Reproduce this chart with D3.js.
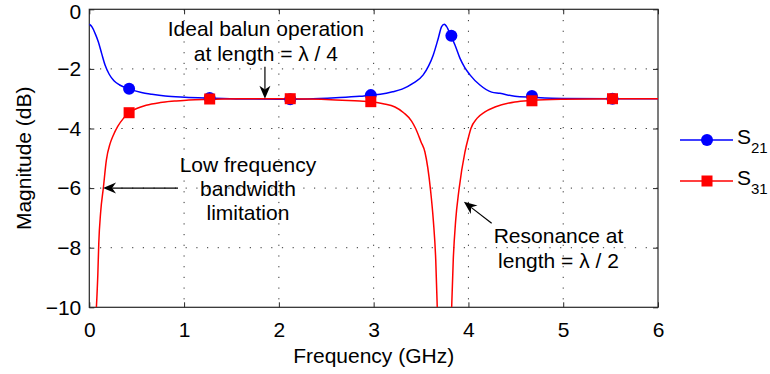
<!DOCTYPE html>
<html>
<head>
<meta charset="utf-8">
<script src="https://cdn.jsdelivr.net/npm/d3@7/dist/d3.min.js"></script>
<style>
  body { margin: 0; background: #fff; }
  text { font-family: "Liberation Sans", Arial, Helvetica, sans-serif; fill: #000; }
</style>
</head>
<body>
<script>
// S21 trace (GHz, dB)
const s21Freq = [0, 0.03, 0.06, 0.095, 0.13, 0.166, 0.21, 0.26, 0.32, 0.42, 0.55, 0.66, 0.8, 1.01, 1.27, 1.6, 2.0, 2.3, 2.6,
  2.85, 2.97, 3.07, 3.2, 3.3, 3.418, 3.523, 3.58, 3.629, 3.682, 3.717, 3.745, 3.77, 3.815, 3.858, 3.91, 3.96, 4.016,
  4.121, 4.245, 4.332, 4.49, 4.67, 5.0, 5.52, 6.0];
const s21Mag = [-0.50, -0.60, -0.80, -1.09, -1.48, -1.87, -2.18, -2.40, -2.54, -2.67, -2.79, -2.85, -2.91, -2.95, -2.98, -3.01, -3.02, -3.01, -2.97,
  -2.92, -2.88, -2.85, -2.77, -2.68, -2.48, -2.20, -1.90, -1.53, -0.97, -0.58, -0.50, -0.58, -0.89, -1.20, -1.64, -1.95, -2.20,
  -2.54, -2.78, -2.82, -2.92, -2.95, -2.99, -3.0, -3.0];

// S31 trace, null = below the -10 dB floor
const s31Freq = [0.075, 0.09, 0.10, 0.12, 0.148, 0.18, 0.22, 0.25, 0.30, 0.36, 0.42, 0.5, 0.6, 0.75, 0.9, 1.05, 1.27, 1.6, 2.0, 2.3, 2.6,
  2.8, 2.97, 3.1, 3.225, 3.32, 3.40, 3.443, 3.50, 3.541, 3.60, 3.63, 3.655, 3.671,
  3.747,
  3.823, 3.84, 3.865, 3.90, 3.963, 4.0, 4.026, 4.09, 4.17, 4.28, 4.49, 4.67, 5.0, 5.52, 6.0];
const s31Mag = [-10.0, -8.9, -7.85, -6.8, -6.0, -5.06, -4.5, -4.25, -3.93, -3.66, -3.47, -3.33, -3.22, -3.13, -3.08, -3.04, -3.02, -3.0, -3.0, -3.01, -3.04,
  -3.07, -3.10, -3.17, -3.28, -3.48, -3.75, -4.0, -4.45, -4.79, -6.06, -7.1, -8.4, -10.0,
  null,
  -10.0, -8.4, -7.1, -6.06, -4.79, -4.3, -4.0, -3.66, -3.45, -3.28, -3.11, -3.06, -3.02, -3.0, -3.0];

// markers
const markerFreq = [0.42, 1.27, 2.12, 2.97, 3.82, 4.67, 5.52];
const s21Marker = [-2.67, -2.98, -3.02, -2.88, -0.89, -2.91, -3.0];
const s31Marker = [-3.47, -3.01, -3.0, -3.10, null, -3.07, -3.0];

const xTicks = [0, 1, 2, 3, 4, 5, 6];
const yTicks = [0, -2, -4, -6, -8, -10];

const W = 770, H = 374;
const m = { left: 89.3, right: 112, top: 9.3, bottom: 66.7 };
const fs = 21;

const svg = d3.select('body').append('svg')
  .attr('width', W)
  .attr('height', H);

const x = d3.scaleLinear().domain([0, 6]).range([m.left, W - m.right]);
const y = d3.scaleLinear().domain([-10, 0]).range([H - m.bottom, m.top]);

svg.append('clipPath').attr('id', 'plot')
  .append('rect')
  .attr('x', x(0)).attr('y', y(0))
  .attr('width', x(6) - x(0)).attr('height', y(-10) - y(0));

// grid
const grid = svg.append('g')
  .attr('stroke', '#333')
  .attr('stroke-width', 1)
  .attr('stroke-dasharray', '1.2,9.5');
grid.selectAll('.gx').data(xTicks.slice(1, -1)).enter()
  .append('line')
  .attr('x1', d => x(d)).attr('x2', d => x(d))
  .attr('y1', y(0)).attr('y2', y(-10));
grid.selectAll('.gy').data(yTicks.slice(1, -1)).enter()
  .append('line')
  .attr('y1', d => y(d)).attr('y2', d => y(d))
  .attr('x1', x(0)).attr('x2', x(6));

// axes with inward ticks
const tickLen = 5;
const axisColor = '#262626';
svg.append('g')
  .attr('transform', `translate(0,${y(-10)})`)
  .call(d3.axisBottom(x).tickValues(xTicks).tickSizeInner(-tickLen).tickSizeOuter(0).tickPadding(15)
    .tickFormat(d3.format('d')))
  .call(g => g.select('.domain').remove());
svg.append('g')
  .attr('transform', `translate(0,${y(0)})`)
  .call(d3.axisTop(x).tickValues(xTicks).tickSizeInner(-tickLen).tickSizeOuter(0).tickFormat(''))
  .call(g => g.select('.domain').remove());
svg.append('g')
  .attr('transform', `translate(${x(0)},0)`)
  .call(d3.axisLeft(y).tickValues(yTicks).tickSizeInner(-tickLen).tickSizeOuter(0).tickPadding(8)
    .tickFormat(d => d < 0 ? '\u2212' + Math.abs(d) : d))
  .call(g => g.select('.domain').remove())
  .call(g => g.selectAll('.tick text').filter(d => d === 0).attr('y', 2));
svg.append('g')
  .attr('transform', `translate(${x(6)},0)`)
  .call(d3.axisRight(y).tickValues(yTicks).tickSizeInner(-tickLen).tickSizeOuter(0).tickFormat(''))
  .call(g => g.select('.domain').remove());

svg.selectAll('.tick line').attr('stroke', axisColor);
svg.selectAll('.tick text')
  .attr('font-size', fs)
  .attr('font-family', '"Liberation Sans", Arial, sans-serif')
  .attr('fill', '#000');

svg.append('rect')
  .attr('x', x(0)).attr('y', y(0))
  .attr('width', x(6) - x(0)).attr('height', y(-10) - y(0))
  .attr('fill', 'none')
  .attr('stroke', axisColor)
  .attr('stroke-width', 1.2);

// axis titles
svg.append('text')
  .attr('x', (x(0) + x(6)) / 2).attr('y', 363)
  .attr('text-anchor', 'middle')
  .attr('font-size', fs)
  .text('Frequency (GHz)');
svg.append('text')
  .attr('transform', `translate(31,${(y(0) + y(-10)) / 2}) rotate(-90)`)
  .attr('text-anchor', 'middle')
  .attr('font-size', fs)
  .text('Magnitude (dB)');

// traces
const line = d3.line()
  .defined(d => d[1] != null)
  .x(d => x(d[0]))
  .y(d => y(d[1]))
  .curve(d3.curveMonotoneX);

const series = [
  { name: '21', freq: s21Freq, mag: s21Mag, marks: s21Marker, color: '#0000ff', shape: 'circle' },
  { name: '31', freq: s31Freq, mag: s31Mag, marks: s31Marker, color: '#ff0000', shape: 'square' }
];

const plot = svg.append('g').attr('clip-path', 'url(#plot)');

series.forEach(s => {
  plot.append('path')
    .datum(s.freq.map((f, i) => [f, s.mag[i]]))
    .attr('d', line)
    .attr('fill', 'none')
    .attr('stroke', s.color)
    .attr('stroke-width', 1.5);
});

function drawMarker(g, shape, color, cx, cy) {
  if (shape === 'circle') {
    g.append('circle').attr('cx', cx).attr('cy', cy).attr('r', 6).attr('fill', color);
  } else {
    g.append('rect').attr('x', cx - 5.5).attr('y', cy - 5.5).attr('width', 11).attr('height', 11).attr('fill', color);
  }
}

series.forEach(s => {
  const g = svg.append('g');
  markerFreq.forEach((f, i) => {
    if (s.marks[i] == null) return;
    drawMarker(g, s.shape, s.color, x(f), y(s.marks[i]));
  });
});

// legend
series.forEach((s, i) => {
  const ly = 140 + i * 41;
  const g = svg.append('g');
  g.append('line')
    .attr('x1', 680).attr('x2', 733)
    .attr('y1', ly).attr('y2', ly)
    .attr('stroke', s.color).attr('stroke-width', 1.5);
  drawMarker(g, s.shape, s.color, 707, ly);
  const t = g.append('text')
    .attr('x', 737).attr('y', ly + 4)
    .attr('font-size', 21);
  t.append('tspan').text('S');
  t.append('tspan').attr('dy', 9).attr('font-size', 15).text(s.name);
});

// annotations
function arrow(x1, y1, x2, y2) {
  const g = svg.append('g');
  const ang = Math.atan2(y2 - y1, x2 - x1);
  const L = 13, Wd = 11;
  g.append('line')
    .attr('x1', x1).attr('y1', y1)
    .attr('x2', x2 - Math.cos(ang) * L * 0.7).attr('y2', y2 - Math.sin(ang) * L * 0.7)
    .attr('stroke', '#000').attr('stroke-width', 1.2);
  g.append('path')
    .attr('d', `M0,0 L${-L},${-Wd / 2} L${-L * 0.7},0 L${-L},${Wd / 2} Z`)
    .attr('transform', `translate(${x2},${y2}) rotate(${ang * 180 / Math.PI})`)
    .attr('fill', '#000');
}

function label(lines, cx, baselineY, step) {
  const t = svg.append('text')
    .attr('text-anchor', 'middle')
    .attr('font-size', fs);
  lines.forEach((l, i) => {
    t.append('tspan').attr('x', cx).attr('y', baselineY + i * step).text(l);
  });
}

label(['Ideal balun operation', 'at length = \u03bb / 4'], x(1.863), y(-0.886), 25.3);
arrow(x(1.853), y(-1.93), x(1.853), y(-3.0));

label(['Low frequency', 'bandwidth', 'limitation'], x(1.674), y(-5.45), 24.2);
arrow(x(0.936), y(-6.0), x(0.145), y(-6.0));

label(['Resonance at', 'length = \u03bb / 2'], x(4.95), y(-7.84), 25);
arrow(x(4.245), y(-7.18), x(3.952), y(-6.46));
</script>
</body>
</html>
